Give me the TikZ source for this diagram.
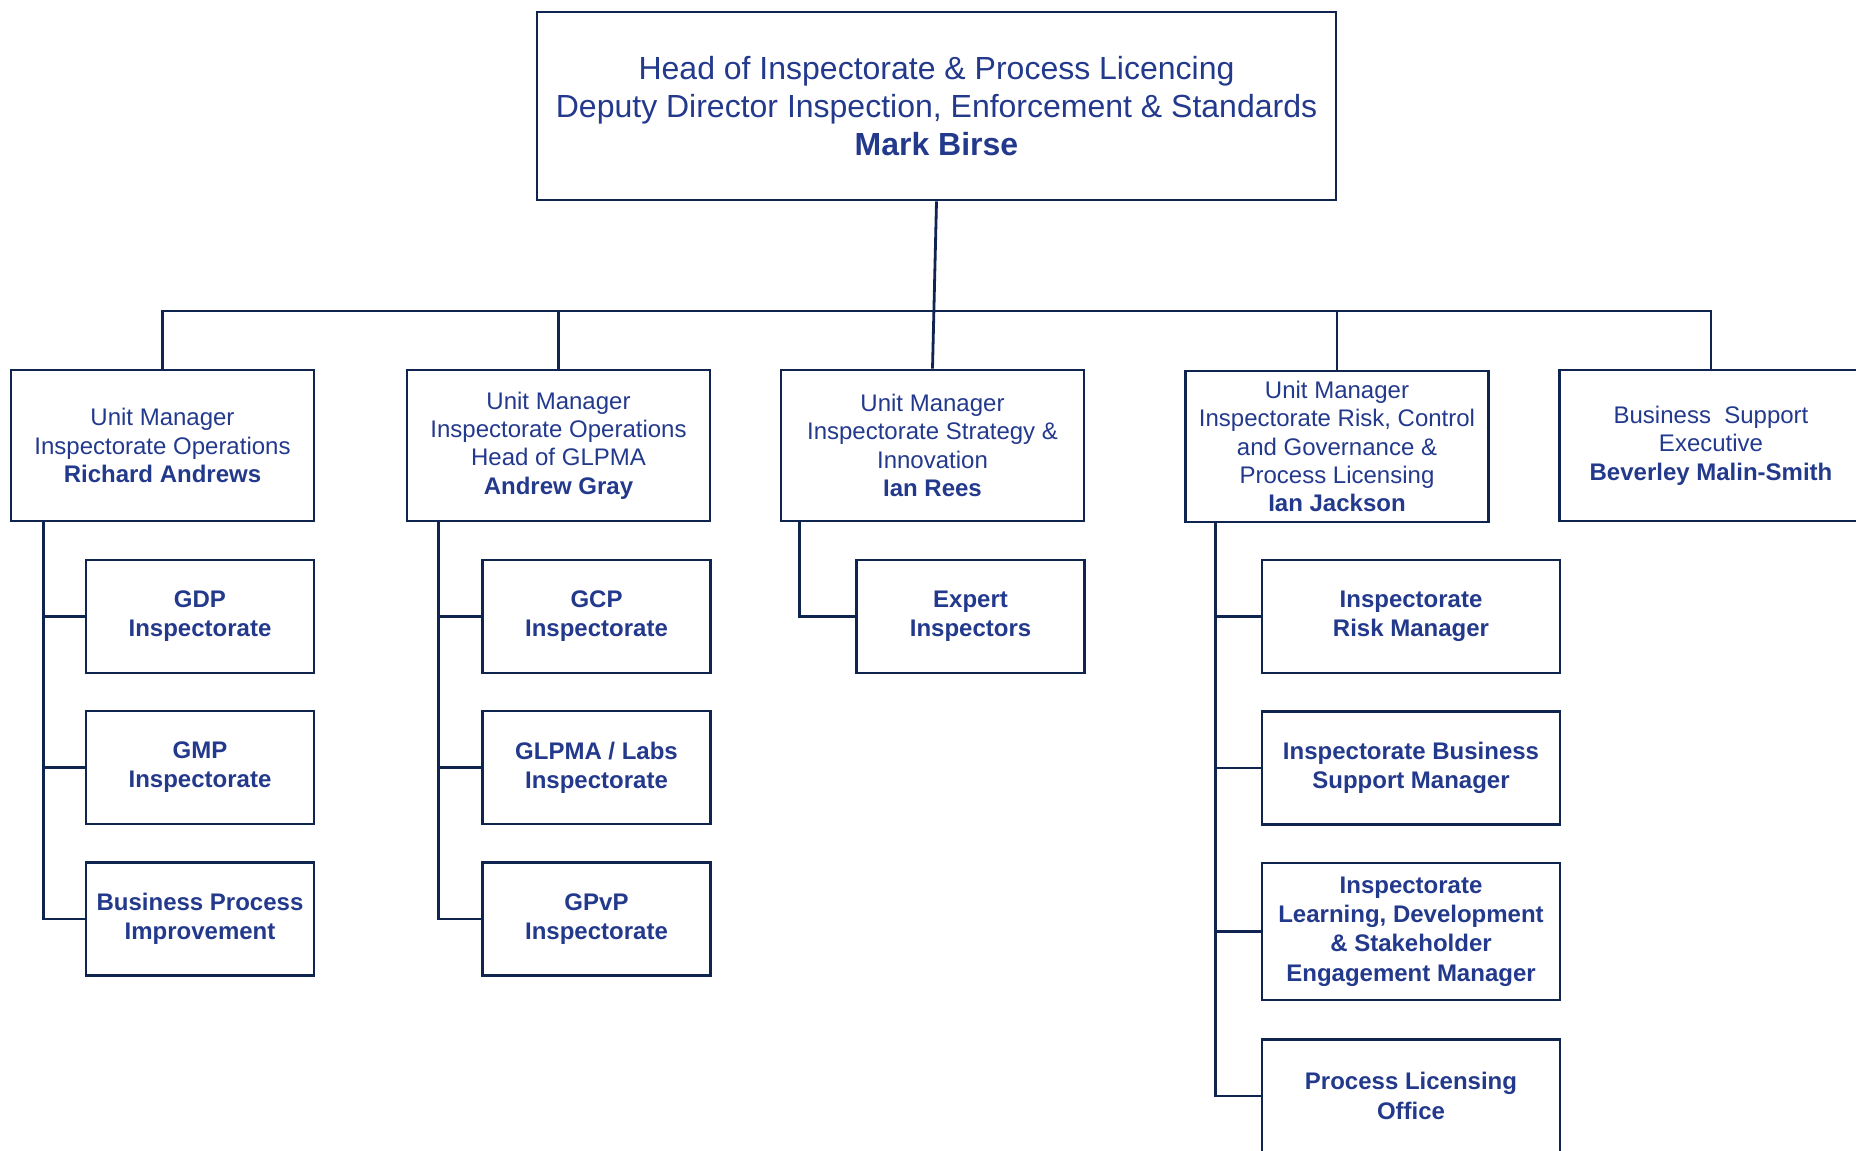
\documentclass[tikz,border=0pt]{standalone}
\usepackage{fontspec}
\setmainfont{Liberation Sans}
\definecolor{mhtext}{RGB}{35,57,140}
\definecolor{mhline}{RGB}{16,36,80}
\newcommand{\post}[2]{#1\\ \textbf{#2}}

\begin{document}
\begin{tikzpicture}[ x = 0.5pt, y = -0.5pt,
                     link/.style={draw=mhline,line width=1.4pt},
                     unit/.style={rectangle,draw=mhline,line width=1.4pt,text=mhtext,
                                  align=center,inner sep=1pt,
                                  minimum width=151.5pt,minimum height=75.5pt,
                                  execute at begin node={\rule{0pt}{13.5pt}},
                                  font=\fontsize{12}{14.2}\selectfont},
                     team/.style={unit,minimum width=114pt,minimum height=56.5pt,
                                  font=\bfseries\fontsize{12}{14.6}\selectfont},
                   ]
 \useasboundingbox (0,0) rectangle (1856,1150);

 \node[unit,minimum width=399.5pt,minimum height=94pt,
       execute at begin node={},
       font=\fontsize{16}{19}\selectfont] (head) at (936.5,106)
      {Head of Inspectorate \& Process Licencing\\
       \post{Deputy Director Inspection, Enforcement \& Standards}{Mark Birse}};

 % unit managers
 \node[unit] (ra)  at (162.5,445.5) {\post{Unit Manager\\ Inspectorate Operations}{Richard Andrews}};
 \node[unit] (ag)  at (558.5,445.5) {\post{Unit Manager\\ Inspectorate Operations\\ Head of GLPMA}{Andrew Gray}};
 \node[unit] (ir)  at (932.5,445.5) {\post{Unit Manager\\ Inspectorate Strategy \&\\ Innovation}{Ian Rees}};
 \node[unit] (ij)  at (1337,446.5)  {\post{Unit Manager\\ Inspectorate Risk, Control\\ and Governance \&\\ Process Licensing}{Ian Jackson}};
 \node[unit] (bms) at (1711,445.5)  {\post{Business~ Support\\ Executive}{Beverley Malin-Smith}};

 % teams
 \node[team] (gdp)  at (200,616.5)   {GDP\\ Inspectorate};
 \node[team] (gmp)  at (200,767.5)   {GMP\\ Inspectorate};
 \node[team] (bpi)  at (200,919)     {Business Process\\ Improvement};
 \node[team] (gcp)  at (596.5,616.5) {GCP\\ Inspectorate};
 \node[team] (glp)  at (596.5,767.5) {GLPMA / Labs\\ Inspectorate};
 \node[team] (gpvp) at (596.5,919)   {GPvP\\ Inspectorate};
 \node[team] (exp)  at (970.5,616.5) {Expert\\ Inspectors};
 \node[team,minimum width=149pt] (irm) at (1411,616.5) {Inspectorate\\ Risk Manager};
 \node[team,minimum width=149pt] (ibs) at (1411,768)   {Inspectorate Business\\ Support Manager};
 \node[team,minimum width=149pt,minimum height=68.5pt] (ild) at (1411,931.5)
      {Inspectorate\\ Learning, Development\\ \& Stakeholder\\ Engagement Manager};
 \node[team,minimum width=149pt] (plo) at (1411,1096)  {Process Licensing\\ Office};

 % connectors
 \coordinate (bar) at (936,311);
 \draw[link] (head.south) -- (ir.north);
 \draw[link] (ra.north) |- (bar) -| (bms.north);
 \foreach \n in {ag,ij}
   \draw[link] (\n.north) -- (\n.north |- bar);

 \foreach \m/\d/\c in {ra/17/gdp, ra/17/gmp, ra/17/bpi,
                       ag/16.5/gcp, ag/16.5/glp, ag/16.5/gpvp,
                       ir/10/exp,
                       ij/15.5/irm, ij/15.5/ibs, ij/15.5/ild, ij/15.5/plo}
   \draw[link] ([xshift=\d pt]\m.south west) |- (\c.west);

\end{tikzpicture}
\end{document}
